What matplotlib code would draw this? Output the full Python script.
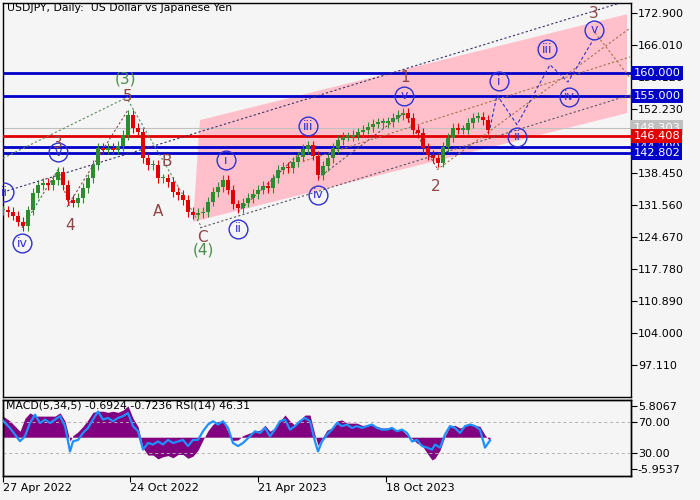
import numpy as np
import matplotlib.pyplot as plt
from matplotlib.patches import Polygon
from matplotlib.transforms import blended_transform_factory

plt.rcParams['font.family'] = ['DejaVu Sans']

# weekly-ish closes (bar 0 = 27 Apr 2022, one step = 5 bars)
close_bar = list(range(0, 490, 5))
closes = [130.5, 130.1, 129.3, 128.0, 127.1, 130.5, 134.2, 135.9, 136.4, 135.9,
          137.0, 138.7, 135.9, 132.7, 132.1, 133.1, 135.3, 137.4, 140.2, 143.9,
          143.5, 143.9, 143.5, 144.3, 146.7, 151.0, 148.2, 147.3, 141.7, 140.2,
          140.2, 137.4, 137.4, 136.6, 134.4, 133.8, 132.7, 130.1, 129.5, 129.9,
          130.1, 132.3, 134.4, 135.5, 137.0, 134.9, 131.8, 131.0, 132.1, 133.1,
          134.0, 134.9, 135.7, 135.3, 137.4, 139.2, 139.8, 139.6, 140.9, 142.0,
          143.7, 144.5, 142.2, 138.1, 140.0, 141.7, 143.9, 145.6, 146.3, 146.3,
          146.7, 147.3, 147.8, 148.4, 149.1, 149.3, 149.3, 149.5, 150.4, 151.0,
          151.4, 150.4, 147.8, 147.1, 143.9, 142.4, 141.7, 140.7, 144.1, 146.1,
          148.2, 147.8, 147.8, 149.3, 150.4, 150.6, 149.9, 147.8]

# indicator readings
ind_bar = [0, 7, 17, 22, 27, 32, 37, 42, 47, 52, 57, 62, 67, 70, 75, 80, 85, 90, 95, 100,
           105, 110, 115, 120, 125, 130, 135, 140, 145, 150, 155, 160, 165, 170, 175, 180,
           185, 190, 195, 200, 205, 210, 215, 220, 225, 230, 235, 240, 247, 252, 257, 262,
           267, 272, 277, 282, 287, 292, 297, 302, 307, 312, 315, 319, 324, 329, 334, 339,
           344, 349, 354, 359, 364, 369, 374, 379, 384, 389, 394, 399, 404, 409, 414, 419,
           424, 429, 432, 437, 442, 447, 452, 457, 462, 467, 472, 477, 482, 487]
rsi = [72, 62.6, 45.3, 51.8, 69, 80, 69, 73.5, 69, 73.5,
       78, 65, 32, 45, 47, 56, 62.6, 73.5, 84, 73.5,
       75.7, 71.3, 75.7, 78, 82, 65, 58.3, 34.4, 43, 41,
       45, 41, 47, 43, 45, 47, 39, 47, 47, 58.3,
       67, 71.3, 67, 71.3, 62.6, 43, 39, 43, 51.8, 58.3,
       56, 62.6, 51.8, 60.4, 71.3, 73.5, 60.4, 65, 71.3, 75.7,
       71.3, 45, 32, 45, 54, 60.4, 69, 65, 67, 62.6,
       65, 62.6, 65, 67, 62.6, 60.4, 60.4, 62.6, 58.3, 60.4,
       56, 45, 47, 39, 37, 34.4, 41, 37, 54, 65,
       62.6, 56, 65, 67, 65, 60.4, 37, 46.3]
macd = [3.9, 3.0, 1.1, 3.5, 4.5, 3.9, 3.9, 3.9, 3.9, 3.9,
        4.5, 3.0, -0.7, 0.3, 1.0, 2.0, 3.2, 4.6, 4.8, 4.8,
        4.6, 4.8, 4.6, 5.0, 5.8, 3.5, 2.0, -2.0, -3.3, -3.3,
        -4.0, -3.6, -3.4, -3.8, -3.2, -3.2, -3.9, -3.5, -2.4, -0.5,
        1.2, 2.4, 2.9, 3.0, 1.0, -0.6, -0.5, 0.3, 0.8, 1.1,
        1.3, 2.2, 1.1, 1.7, 3.0, 4.1, 3.0, 2.2, 3.2, 4.1,
        4.1, 0.4, -1.5, -0.2, 1.3, 1.7, 3.0, 3.2, 2.6, 2.6,
        2.6, 2.2, 2.2, 2.2, 2.0, 1.7, 1.7, 1.7, 1.3, 1.3,
        0.4, -0.2, -1.1, -1.5, -2.9, -4.2, -3.9, -2.4, 0.2, 2.0,
        2.2, 1.7, 2.0, 2.6, 2.2, 2.0, 0.4, -0.69]

price_ticks = [172.900, 166.010, 159.120, 152.230, 145.340, 138.450,
               131.560, 124.670, 117.780, 110.890, 104.000, 97.110]
date_bars = [0, 127, 255, 383]
date_labels = ['27 Apr 2022', '24 Oct 2022', '21 Apr 2023', '18 Oct 2023']

blue_levels = [160.000, 155.000, 144.200, 142.802]
red_level = 146.408
last_price = 148.303

# analyst drawing: channel and wave marks (bar, price)
channel = [(197, 149.9), (624, 172.7), (624, 151.4), (190, 128.0)]
forecast_path = [(487, 148.2), (494, 155.3), (514, 148.9), (547, 161.8),
                 (565, 158.1), (590, 167.1)]
circled = [('ii', 1, 134.4), ('iv', 19, 123.4), ('v', 55, 143.0), ('i', 223, 141.3),
           ('ii', 235, 126.5), ('iii', 305, 148.6), ('iv', 315, 133.8), ('v', 401, 155.1),
           ('i', 496, 158.3), ('ii', 514, 146.3), ('iii', 544, 165.2), ('iv', 566, 154.9),
           ('v', 591, 169.3)]
brown_marks = [('3', 55, 144.8), ('4', 67, 127.1), ('5', 125, 154.9), ('A', 155, 130.3),
               ('B', 164, 140.9), ('C', 199, 124.7), ('1', 402, 159.0), ('2', 433, 135.5),
               ('3', 591, 172.9), ('4', 630, 154.9)]
green_marks = [('(3)', 123, 158.8), ('(4)', 200, 121.9)]
dotted = [((0, 141.7), (125, 154.9), '#5a8a5a'),
          ((125, 154.2), (199, 126.7), '#5a8a5a'),
          ((19, 126.7), (55, 139.2), '#4a6a4a'),
          ((55, 139.2), (67, 131.0), '#8c4646'),
          ((64, 131.2), (125, 152.1), '#8c4646'),
          ((0, 134.4), (617, 175.1), '#333366'),
          ((197, 126.7), (627, 155.3), '#555566'),
          ((235, 130.1), (305, 144.5), '#555566'),
          ((315, 137.4), (401, 151.4), '#555566'),
          ((401, 151.4), (434, 139.6), '#8c4646'),
          ((434, 139.2), (627, 169.7), '#a0704a'),
          ((300, 141.0), (627, 163.5), '#a0704a'),
          ((592, 168.7), (627, 159.0), '#b06a3a')]

bg = '#f5f5f5'
brown = '#8c4646'
green = '#4a8f4a'
wave_blue = '#3030d0'
lvl_blue = '#0000c8'

fig = plt.figure(figsize=(7, 5), dpi=100, facecolor=bg)
ax = fig.add_axes([3 / 700, 103 / 500, 628 / 700, 394 / 500], facecolor=bg)
axi = fig.add_axes([3 / 700, 24 / 500, 628 / 700, 76 / 500], facecolor=bg)

ax.set_xlim(0, 628)
ax.set_ylim(90.28, 175.11)

ax.add_patch(Polygon(channel, closed=True, facecolor='#ffc0cb', edgecolor='none', zorder=1))

# candles
prev = closes[0]
for b, c in zip(close_bar, closes):
    o = prev
    col = '#2e8b2e' if c >= o else '#e00000'
    lo, hi = min(o, c), max(o, c)
    ax.vlines(b, lo - 1.0, hi + 1.0, color=col, lw=0.8, zorder=4)
    ax.bar(b, max(hi - lo, 0.3), bottom=lo, width=4, color=col, zorder=4)
    prev = c

for lv in blue_levels:
    ax.axhline(lv, color=lvl_blue, lw=2, zorder=3)
ax.axhline(red_level, color='#e00000', lw=2, zorder=3)
ax.axhline(last_price, color='#c0c0c0', lw=0.8, zorder=2)

for p0, p1, col in dotted:
    ax.plot([p0[0], p1[0]], [p0[1], p1[1]], ls=(0, (2, 2)), color=col, lw=0.8, zorder=3)
fx, fy = zip(*forecast_path)
ax.plot(fx, fy, ls=(0, (3, 2)), color=wave_blue, lw=0.8, zorder=3)

for t, b, p in circled:
    ax.plot(b, p, 'o', ms=13.5, mfc='none', mec=wave_blue, mew=1, zorder=6)
    ax.text(b, p, t, color=wave_blue, fontsize=9, ha='center', va='center', zorder=6)
for t, b, p in brown_marks:
    ax.text(b, p, t, color=brown, fontsize=11, ha='center', va='center', zorder=6,
            clip_on=True)
for t, b, p in green_marks:
    ax.text(b, p, t, color=green, fontsize=11, ha='center', va='center', zorder=6)

ax.text(4, 174.0, 'USDJPY, Daily:  US Dollar vs Japanese Yen', fontsize=7.8,
        ha='left', va='center', zorder=7)

ax.yaxis.tick_right()
ax.set_yticks(price_ticks)
ax.set_yticklabels([f'{v:.3f}' for v in price_ticks])
ax.tick_params(axis='y', direction='out', length=4, width=0.8, labelsize=8, pad=1)
ax.set_xticks([])

# price labels on the scale
tr = blended_transform_factory(ax.transAxes, ax.transData)
tags = [(last_price, '#c0c0c0'), (blue_levels[2], lvl_blue), (red_level, '#e00000'),
        (blue_levels[3], lvl_blue), (blue_levels[0], lvl_blue), (blue_levels[1], lvl_blue)]
for v, col in tags:
    ax.text(1.004, v, f'{v:.3f}', transform=tr, color='white', fontsize=8.2,
            ha='left', va='center', clip_on=False, zorder=10,
            bbox=dict(boxstyle='square,pad=0.18', facecolor=col, edgecolor='none'))

# indicator panel
axi.set_xlim(0, 628)
axi.set_ylim(0, 99)
axm = axi.twinx()
axm.set_ylim(-7.17, 6.88)
axm.fill_between(ind_bar, 0, macd, color='#800080', lw=0, zorder=2)
axi.plot(ind_bar, rsi, color='#1e90ff', lw=1.6, zorder=5)
axi.set_zorder(axm.get_zorder() + 1)
axi.patch.set_visible(False)
axm.patch.set_facecolor(bg)
axm.patch.set_visible(True)
for lv in (70, 30):
    axi.axhline(lv, color='#b0b0b0', lw=0.7, ls=(0, (3, 3)))
axi.yaxis.tick_right()
axi.set_yticks([70, 30])
axi.set_yticklabels(['70.00', '30.00'])
axm.set_yticks([5.8067, -5.9537])
axm.set_yticklabels(['5.8067', '-5.9537'])
for a in (axi, axm):
    a.tick_params(axis='y', direction='out', length=4, width=0.8, labelsize=8, pad=1)
axi.set_xticks(date_bars)
axi.set_xticklabels(date_labels)
axi.tick_params(axis='x', direction='out', length=4, width=0.8, labelsize=8, pad=1)
for lab in axi.get_xticklabels():
    lab.set_horizontalalignment('left')
axi.text(3, 92, 'MACD(5,34,5) -0.6924 -0.7236 RSI(14) 46.31', fontsize=7.8,
         ha='left', va='center', zorder=7)

for a in (ax, axi, axm):
    for s in a.spines.values():
        s.set_linewidth(1)

fig.savefig('out.png', dpi=100, facecolor=bg)
